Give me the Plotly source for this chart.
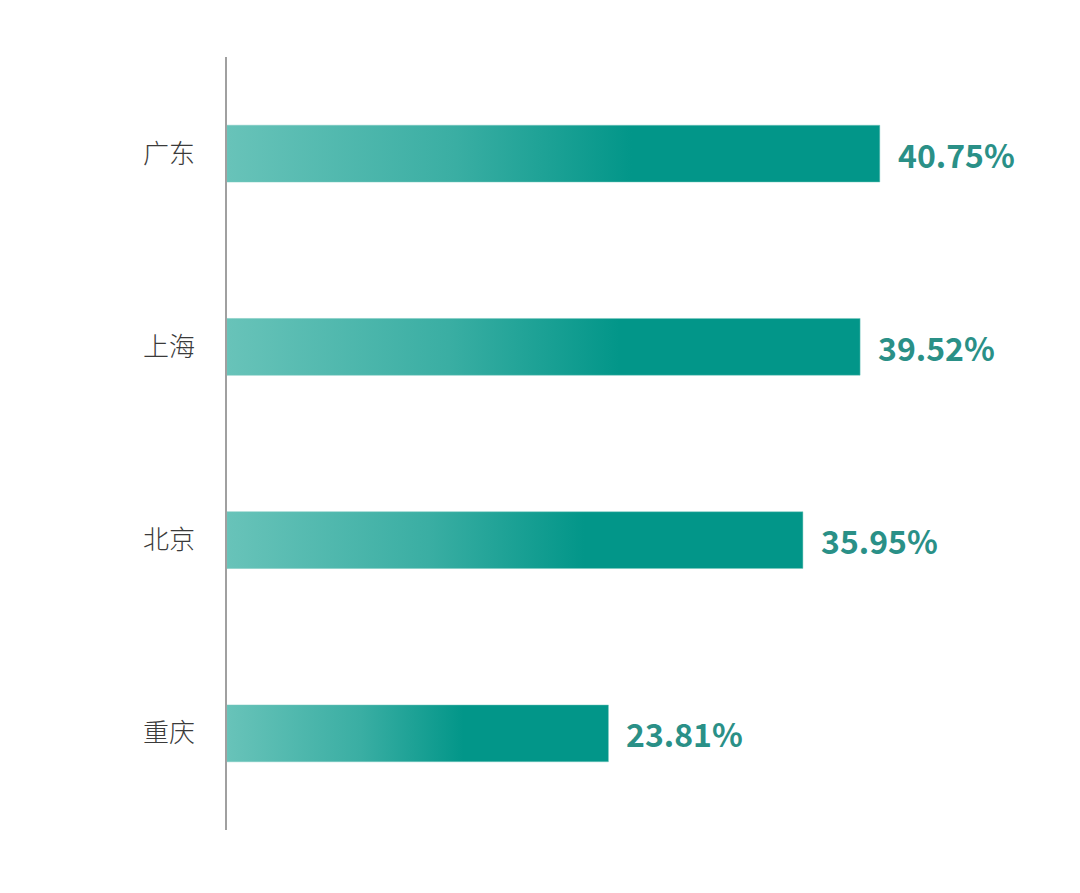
import plotly.graph_objects as go

categories = ["广东", "上海", "北京", "重庆"]
values = [40.75, 39.52, 35.95, 23.81]

BAR_HALF = 0.147
fig = go.Figure()

for i, (cat, v) in enumerate(zip(categories, values)):
    fig.add_trace(go.Scatter(
        x=[0, v, v, 0, 0],
        y=[i - BAR_HALF, i - BAR_HALF, i + BAR_HALF, i + BAR_HALF, i - BAR_HALF],
        mode="lines",
        line=dict(width=0.8, color="rgba(120,200,190,0.6)"),
        fill="toself",
        fillgradient=dict(
            type="horizontal",
            colorscale=[[0, "#68c3b9"], [0.35, "#3aaea3"], [0.62, "#029689"], [1, "#029689"]],
        ),
        hoverinfo="text",
        text=f"{cat}: {v:.2f}%",
        showlegend=False,
    ))
    fig.add_annotation(
        x=v, y=i, xref="x", yref="y",
        text=f"{v:.2f}%", showarrow=False,
        xanchor="left", yanchor="middle", xshift=16,
        font=dict(family="Noto Sans CJK SC", size=32, color="#2a9087", weight="bold"),
    )

fig.update_layout(
    width=1080, height=893,
    margin=dict(l=219, r=60, t=49, b=71),
    plot_bgcolor="white", paper_bgcolor="white",
    xaxis=dict(range=[0, 50], visible=False, fixedrange=True),
    yaxis=dict(
        range=[3.5, -0.5],
        tickmode="array",
        tickvals=list(range(len(categories))),
        ticktext=categories,
        showgrid=False, zeroline=False,
        showline=True, linecolor="#a0a0a0", linewidth=1.5,
        ticks="", ticklabelstandoff=25,
        tickfont=dict(family="Noto Sans CJK SC", size=26, color="#3a3a3a", weight=300),
    ),
)

fig.write_html("out.html")
